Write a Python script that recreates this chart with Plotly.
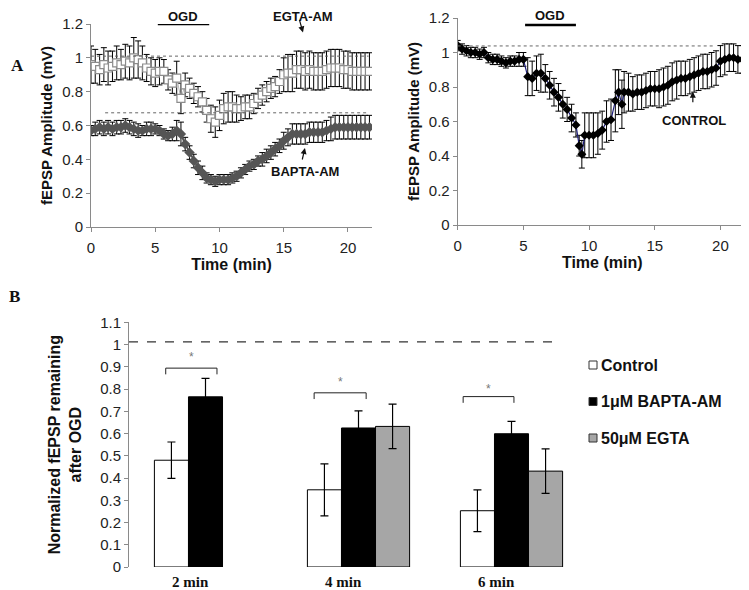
import plotly.graph_objects as go

# ---------------- Panel A (left): EGTA-AM and BAPTA-AM ----------------
time_a = [0.00, 0.33, 0.67, 1.00, 1.33, 1.67, 2.00, 2.33, 2.67, 3.00, 3.33, 3.67,
          4.00, 4.33, 4.67, 5.00, 5.33, 5.67, 6.00, 6.33, 6.67, 7.00, 7.33, 7.67,
          8.00, 8.33, 8.67, 9.00, 9.33, 9.67, 10.00, 10.33, 10.67, 11.00, 11.33, 11.67,
          12.00, 12.33, 12.67, 13.00, 13.33, 13.67, 14.00, 14.33, 14.67, 15.00, 15.33, 15.67,
          16.00, 16.33, 16.67, 17.00, 17.33, 17.67, 18.00, 18.33, 18.67, 19.00, 19.33, 19.67,
          20.00, 20.33, 20.67, 21.00, 21.33, 21.67]
egta = [0.96, 0.95, 0.93, 0.96, 0.94, 0.95, 0.97, 0.96, 0.98, 0.97, 1.00, 0.99,
        0.97, 0.94, 0.92, 0.91, 0.92, 0.92, 0.87, 0.85, 0.88, 0.76, 0.84, 0.82,
        0.79, 0.77, 0.74, 0.69, 0.64, 0.62, 0.66, 0.70, 0.71, 0.71, 0.70, 0.70,
        0.71, 0.71, 0.73, 0.76, 0.78, 0.80, 0.82, 0.83, 0.86, 0.90, 0.91, 0.91,
        0.93, 0.93, 0.92, 0.93, 0.92, 0.92, 0.92, 0.93, 0.94, 0.94, 0.94, 0.93,
        0.93, 0.92, 0.92, 0.92, 0.92, 0.92]
egta_err = [0.11, 0.10, 0.09, 0.10, 0.10, 0.09, 0.10, 0.09, 0.10, 0.10, 0.12, 0.11,
            0.10, 0.08, 0.08, 0.08, 0.08, 0.07, 0.06, 0.06, 0.10, 0.09, 0.07, 0.06,
            0.06, 0.06, 0.06, 0.07, 0.08, 0.09, 0.09, 0.09, 0.09, 0.09, 0.08, 0.07,
            0.07, 0.07, 0.06, 0.06, 0.06, 0.06, 0.06, 0.06, 0.07, 0.10, 0.11, 0.11,
            0.11, 0.11, 0.11, 0.11, 0.11, 0.11, 0.11, 0.11, 0.11, 0.11, 0.11, 0.11,
            0.11, 0.11, 0.11, 0.11, 0.11, 0.11]
bapta = [0.57, 0.58, 0.59, 0.58, 0.59, 0.58, 0.59, 0.59, 0.60, 0.59, 0.58, 0.57,
         0.57, 0.58, 0.58, 0.58, 0.57, 0.55, 0.54, 0.55, 0.57, 0.55, 0.49, 0.44,
         0.39, 0.35, 0.32, 0.29, 0.28, 0.27, 0.28, 0.28, 0.28, 0.29, 0.30, 0.32,
         0.34, 0.36, 0.37, 0.39, 0.40, 0.42, 0.44, 0.46, 0.48, 0.51, 0.53, 0.55,
         0.55, 0.55, 0.55, 0.56, 0.56, 0.56, 0.56, 0.57, 0.58, 0.59, 0.59, 0.59,
         0.59, 0.59, 0.59, 0.59, 0.59, 0.59]
bapta_err = [0.03, 0.04, 0.04, 0.04, 0.04, 0.04, 0.04, 0.04, 0.04, 0.04, 0.04, 0.04,
             0.03, 0.04, 0.04, 0.03, 0.03, 0.03, 0.03, 0.04, 0.06, 0.07, 0.04, 0.04,
             0.04, 0.04, 0.04, 0.03, 0.03, 0.03, 0.03, 0.03, 0.03, 0.03, 0.03, 0.03,
             0.03, 0.03, 0.03, 0.03, 0.04, 0.04, 0.04, 0.04, 0.04, 0.05, 0.05, 0.06,
             0.06, 0.06, 0.06, 0.06, 0.06, 0.06, 0.06, 0.06, 0.07, 0.07, 0.07, 0.07,
             0.07, 0.07, 0.07, 0.07, 0.07, 0.07]

# ---------------- Panel A (right): CONTROL ----------------
time_c = [0.00, 0.33, 0.67, 1.00, 1.33, 1.67, 2.00, 2.33, 2.67, 3.00, 3.33, 3.67,
          4.00, 4.33, 4.67, 5.00, 5.33, 5.67, 6.00, 6.33, 6.67, 7.00, 7.33, 7.67,
          8.00, 8.33, 8.67, 9.00, 9.25, 9.45, 9.67, 10.00, 10.33, 10.67, 11.00, 11.33,
          11.67, 12.00, 12.25, 12.50, 12.67, 13.00, 13.33, 13.67, 14.00, 14.33, 14.67, 15.00,
          15.33, 15.67, 16.00, 16.33, 16.67, 17.00, 17.33, 17.67, 18.00, 18.33, 18.67, 19.00,
          19.33, 19.67, 20.00, 20.33, 20.67, 21.00, 21.33, 21.67]
control = [1.04, 1.02, 1.01, 1.00, 1.00, 0.99, 1.00, 0.97, 0.96, 0.96, 0.95, 0.94,
           0.95, 0.95, 0.96, 0.96, 0.86, 0.85, 0.88, 0.88, 0.85, 0.81, 0.77, 0.74,
           0.70, 0.67, 0.62, 0.58, 0.46, 0.41, 0.52, 0.52, 0.52, 0.53, 0.55, 0.60,
           0.61, 0.72, 0.77, 0.70, 0.77, 0.77, 0.76, 0.77, 0.77, 0.78, 0.79, 0.79,
           0.79, 0.80, 0.81, 0.83, 0.84, 0.85, 0.85, 0.86, 0.87, 0.88, 0.89, 0.89,
           0.90, 0.91, 0.95, 0.96, 0.97, 0.97, 0.96, 0.96]
control_err = [0.03, 0.03, 0.03, 0.03, 0.03, 0.03, 0.03, 0.03, 0.03, 0.03, 0.03, 0.03,
               0.03, 0.03, 0.04, 0.04, 0.11, 0.10, 0.10, 0.11, 0.08, 0.08, 0.08, 0.08,
               0.08, 0.07, 0.08, 0.07, 0.06, 0.08, 0.13, 0.13, 0.13, 0.12, 0.11, 0.12,
               0.12, 0.18, 0.13, 0.14, 0.12, 0.11, 0.10, 0.10, 0.10, 0.10, 0.10, 0.10,
               0.11, 0.11, 0.11, 0.11, 0.11, 0.10, 0.10, 0.10, 0.10, 0.10, 0.10, 0.10,
               0.10, 0.10, 0.09, 0.09, 0.08, 0.08, 0.08, 0.08]

# ---------------- Panel B: bars ----------------
categories = ["2 min", "4 min", "6 min"]
bar_names = ["Control", "1μM BAPTA-AM", "50μM EGTA"]
bar_control = [0.48, 0.347, 0.253]
bar_control_err = [0.082, 0.117, 0.094]
bar_bapta = [0.765, 0.625, 0.599]
bar_bapta_err = [0.083, 0.077, 0.056]
bar_egta = [None, 0.632, 0.431]
bar_egta_err = [None, 0.10, 0.10]
bar_colors = ["white", "black", "#a6a6a6"]

FONT = "Liberation Sans, Arial, sans-serif"
SERIF = "Liberation Serif, Times New Roman, serif"
AXC = "#8a8a8a"
TXT = "#111111"

# The page body adds an 8px offset; the figure is sized so it fills the window exactly.
OFF = 8
W, H = 749 - OFF, 590 - OFF
def px(X):
    return (X - OFF) / W
def py(Y):
    return 1 - (Y - OFF) / H

fig = go.Figure()

fig.add_trace(go.Scatter(
    x=time_a, y=bapta, mode="lines+markers", xaxis="x", yaxis="y",
    line=dict(color="#555555", width=2),
    marker=dict(symbol="diamond", size=8, color="#555555"),
    error_y=dict(type="data", array=bapta_err, color="black", thickness=1, width=3),
    showlegend=False))
fig.add_trace(go.Scatter(
    x=time_a, y=egta, mode="lines+markers", xaxis="x", yaxis="y",
    line=dict(color="#bbbbbb", width=1),
    marker=dict(symbol="square", size=8, color="white", line=dict(color="#8c8c8c", width=1.2)),
    error_y=dict(type="data", array=egta_err, color="black", thickness=1, width=3),
    showlegend=False))

fig.add_trace(go.Scatter(
    x=time_c, y=control, mode="lines+markers", xaxis="x2", yaxis="y2",
    line=dict(color="#1c1c78", width=1.2),
    marker=dict(symbol="diamond", size=7, color="black"),
    error_y=dict(type="data", array=control_err, color="black", thickness=1, width=3),
    showlegend=False))

xb = [0, 1, 2]
for name, vals, errs, col in zip(bar_names, [bar_control, bar_bapta, bar_egta],
                                 [bar_control_err, bar_bapta_err, bar_egta_err], bar_colors):
    fig.add_trace(go.Bar(
        x=xb, y=vals, name=name, xaxis="x3", yaxis="y3",
        marker=dict(color=col, line=dict(color="black", width=1)),
        error_y=dict(type="data", array=errs, color="black", thickness=1.2, width=4),
        showlegend=False))

axis_common = dict(showgrid=False, zeroline=False, showline=True, linecolor=AXC,
                   linewidth=1, ticks="outside", ticklen=4, tickcolor=AXC,
                   tickfont=dict(family=FONT, size=15, color="#222"))
title_font = dict(family=FONT, size=15, color=TXT)

fig.update_layout(
    width=W, height=H,
    margin=dict(l=0, r=0, t=0, b=0, autoexpand=False),
    paper_bgcolor="white", plot_bgcolor="white",
    barmode="group", bargap=0.332, bargroupgap=0,
    showlegend=False,
    xaxis=dict(domain=[px(91), px(372)], range=[0, 21.87], tickvals=[0, 5, 10, 15, 20],
               title=dict(text="<b>Time (min)</b>", font=dict(family=FONT, size=16, color=TXT), standoff=2),
               ticklabelstandoff=3, anchor="y", **axis_common),
    yaxis=dict(domain=[py(227), py(24)], range=[0, 1.2], dtick=0.2, tickformat="~g",
               title=dict(text="<b>fEPSP Amplitude (mV)</b>", font=title_font, standoff=5),
               anchor="x", **axis_common),
    xaxis2=dict(domain=[px(457.7), px(746.7)], range=[0, 22.0], tickvals=[0, 5, 10, 15, 20],
                title=dict(text="<b>Time (min)</b>", font=dict(family=FONT, size=16, color=TXT), standoff=2),
                ticklabelstandoff=3, anchor="y2", **axis_common),
    yaxis2=dict(domain=[py(225), py(18)], range=[0, 1.2], dtick=0.2, tickformat="~g",
                title=dict(text="<b>fEPSP Amplitude (mV)</b>", font=title_font, standoff=5),
                anchor="x2", **axis_common),
    xaxis3=dict(domain=[px(129), px(588)], range=[-0.5, 2.5],
                tickvals=[i - 0.1 for i in xb], ticktext=["<b>%s</b>" % c for c in categories],
                tickfont=dict(family=SERIF, size=15, color=TXT),
                showgrid=False, zeroline=False, showline=False, ticks="",
                ticklabelstandoff=4, anchor="y3"),
    yaxis3=dict(domain=[py(567), py(322.3)], range=[0, 1.1], dtick=0.1, tickformat="~g",
                title=dict(text="<b>Normalized fEPSP remaining<br>after OGD</b>",
                           font=dict(family=FONT, size=16, color=TXT), standoff=14),
                anchor="x3", **axis_common),
)

shapes = []
shapes.append(dict(type="line", xref="x", yref="y", x0=0, x1=21.6, y0=1.01, y1=1.01,
                   line=dict(color="#666", width=1, dash="dot")))
shapes.append(dict(type="line", xref="x", yref="y", x0=1.1, x1=21.6, y0=0.675, y1=0.675,
                   line=dict(color="#666", width=1, dash="dot")))
shapes.append(dict(type="line", xref="x2", yref="y2", x0=0, x1=19.6, y0=1.038, y1=1.038,
                   line=dict(color="#666", width=1, dash="dot")))
shapes.append(dict(type="line", xref="x", yref="y", x0=5.2, x1=9.2, y0=1.2, y1=1.2,
                   line=dict(color="black", width=2.5)))
shapes.append(dict(type="line", xref="x2", yref="y2", x0=5.13, x1=9.0, y0=1.16, y1=1.16,
                   line=dict(color="black", width=2.5)))
shapes.append(dict(type="line", xref="x3", yref="y3", x0=-0.5, x1=2.31, y0=1.012, y1=1.012,
                   line=dict(color="#333", width=1.3, dash="dash")))
for (xa, xbb, yb) in [(-0.26, 0.075, 0.894), (0.71, 1.05, 0.783), (1.684, 2.016, 0.766)]:
    shapes.append(dict(type="path", xref="x3", yref="y3",
                       path=f"M {xa},{yb-0.028} L {xa},{yb} L {xbb},{yb} L {xbb},{yb-0.028}",
                       line=dict(color="#222", width=1)))

annotations = []
def txt(x, y, text, size=13, xref="paper", yref="paper", family=FONT, color=TXT, **kw):
    kw.setdefault("yanchor", "middle")
    kw.setdefault("xanchor", "center")
    annotations.append(dict(x=x, y=y, xref=xref, yref=yref, text=text, showarrow=False,
                            borderpad=0, font=dict(family=family, size=size, color=color), **kw))

# legend for panel B (small squares + labels)
leg_y = [365, 401.5, 438]
for name, col, yy in zip(bar_names, bar_colors, leg_y):
    shapes.append(dict(type="rect", xref="paper", yref="paper",
                       x0=px(589), x1=px(597), y0=py(yy + 4), y1=py(yy - 4),
                       fillcolor=col, line=dict(color="#333", width=1)))
    txt(px(600), py(yy), "<b>%s</b>" % name, size=16, xanchor="left")

txt(px(17), py(66), "<b>A</b>", size=17, family=SERIF)
txt(px(14), py(296), "<b>B</b>", size=17, family=SERIF)
txt(px(183), py(17), "<b>OGD</b>")
txt(7.06, 1.16, "<b>OGD</b>", xref="x2", yref="y2", yanchor="bottom", yshift=1)
txt(px(303), py(17), "<b>EGTA-AM</b>")
txt(px(305), py(171), "<b>BAPTA-AM</b>")
txt(px(694), py(121), "<b>CONTROL</b>")
annotations.append(dict(x=16.5, y=1.15, xref="x", yref="y", ax=-4, ay=-14, text="",
                        showarrow=True, arrowhead=2, arrowsize=1, arrowwidth=1.2, arrowcolor=TXT))
annotations.append(dict(x=16.65, y=0.467, xref="x", yref="y", ax=-3, ay=13, text="",
                        showarrow=True, arrowhead=2, arrowsize=1, arrowwidth=1.2, arrowcolor=TXT))
annotations.append(dict(x=17.9, y=0.773, xref="x2", yref="y2", ax=0, ay=12, text="",
                        showarrow=True, arrowhead=2, arrowsize=1, arrowwidth=1.2, arrowcolor=TXT))
for (xs, ys) in [(-0.09, 0.944), (0.88, 0.83), (1.85, 0.80)]:
    txt(xs, ys, "*", xref="x3", yref="y3", size=12, color="#777")

fig.update_layout(shapes=shapes, annotations=annotations)
fig.write_html("out.html")
